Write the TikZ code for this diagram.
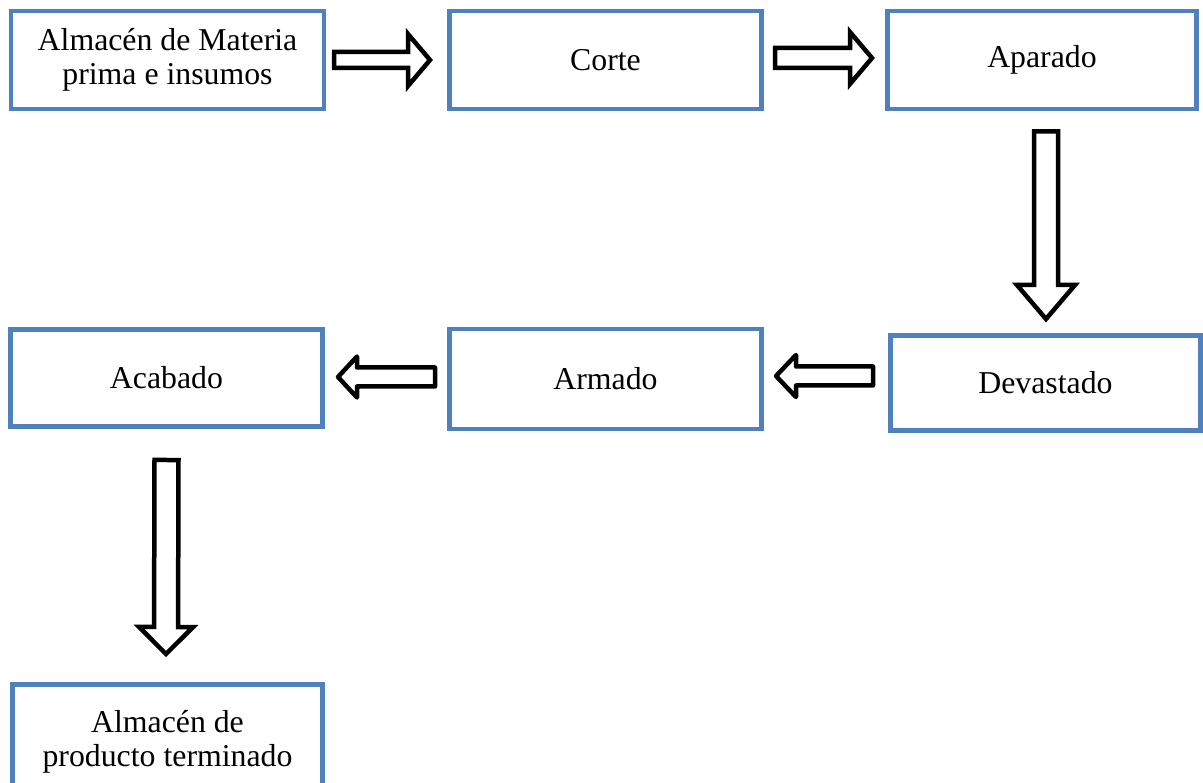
\documentclass[tikz,border=0pt]{standalone}
\usepackage{fontspec}
\setmainfont{Liberation Serif}
\usetikzlibrary{calc}
\definecolor{boxblue}{HTML}{4F81BD}
\tikzset{
  stage/.style={draw=boxblue, line width=4.5pt, fill=white, rectangle,
    outer sep=0pt, inner sep=0pt, align=center,
    font=\fontsize{31.8}{34}\selectfont},
  blockarrow/.style={draw=black, line width=4.5pt, fill=white, line join=miter},
  roundarrow/.style={line join=round},
}
% hollow block arrow: [style] {start} {tip} {shaft half width} {head half width} {head length}
\newcommand\blockarrow[6][]{%
  \coordinate (ba-s) at #2;
  \coordinate (ba-e) at #3;
  \coordinate (ba-b) at ($(ba-e)!#6!(ba-s)$);
  \draw[blockarrow,#1]
    ($(ba-s)!#4!90:(ba-e)$) -- ($(ba-b)!#4!90:(ba-e)$) --
    ($(ba-b)!#5!90:(ba-e)$) -- (ba-e) --
    ($(ba-b)!#5!-90:(ba-e)$) -- ($(ba-b)!#4!-90:(ba-e)$) --
    ($(ba-s)!#4!-90:(ba-e)$) -- cycle;
}
\begin{document}
\begin{tikzpicture}[x=1pt, y=-1pt]
  \useasboundingbox (0,0) rectangle (1203,783);

  % process stages
  \node[stage, minimum width=313pt, minimum height=98pt] (mp) at (167.5,60)
    {Almacén de Materia\\prima e insumos};
  \node[stage, minimum width=312pt, minimum height=98pt] (corte) at (605.5,60) {Corte};
  \node[stage, minimum width=309pt, minimum height=98pt] (aparado) at (1042,60) {Aparado};
  \node[stage, minimum width=310pt, minimum height=95pt] (devastado) at (1045.5,383) {Devastado};
  \node[stage, minimum width=312pt, minimum height=100pt] (armado) at (605.5,379) {Armado};
  \node[stage, minimum width=312pt, minimum height=97pt] (acabado) at (166.5,378) {Acabado};
  \node[stage, minimum width=310pt, minimum height=114pt] (pt) at (167.5,741.5)
    {Almacén de\\producto terminado};

  % flow arrows
  \blockarrow{($(mp.east)+(10,0)$)}{($(corte.west)+(-19.5,0)$)}{8pt}{26pt}{22pt}
  \blockarrow{($(corte.east)+(13.5,-2)$)}{($(aparado.west)+(-15.5,-2)$)}{10pt}{26pt}{22pt}
  \blockarrow{($(aparado.south)+(4,22.5)$)}{($(devastado.north)+(0.5,-16.5)$)}{12pt}{29pt}{34pt}
  \blockarrow[roundarrow]{($(devastado.west)+(-17.5,-7)$)}{($(armado.east)+(14.5,-3)$)}{9.5pt}{21pt}{20pt}
  \blockarrow[roundarrow]{($(armado.west)+(-14.5,-2)$)}{($(acabado.east)+(15.5,-1)$)}{9.5pt}{20.5pt}{19pt}
  \blockarrow{($(acabado.south)+(0,33.5)$)}{($(pt.north)+(-1.5,-30.5)$)}{12pt}{27pt}{27pt}
\end{tikzpicture}
\end{document}
